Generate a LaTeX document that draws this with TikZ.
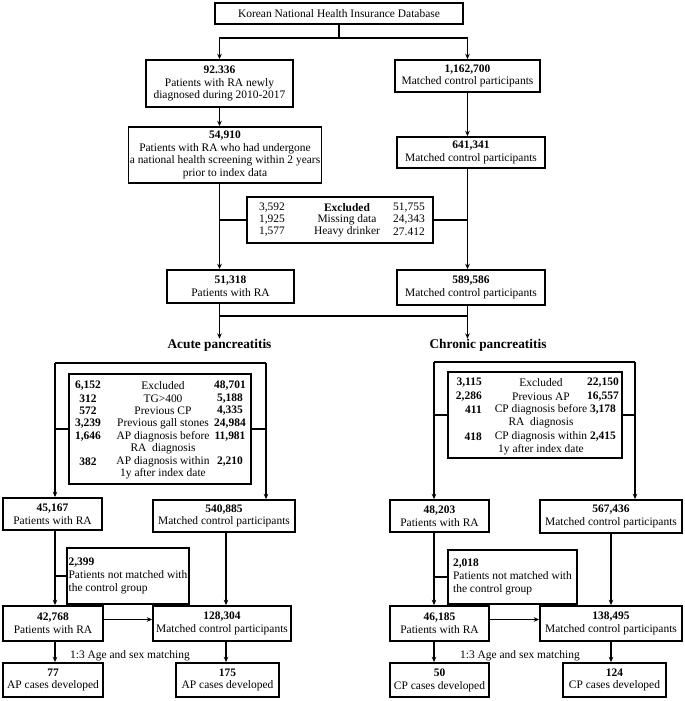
\documentclass[tikz,border=0pt]{standalone}
\usepackage{fontspec}
\setmainfont{Liberation Serif}
\usetikzlibrary{arrows.meta}
\begin{document}
\def\u{0.75pt}
\begin{tikzpicture}[x=0.75pt,y=-0.75pt,
  font=\fontsize{8.6}{9.6}\selectfont,
  box/.style={draw,line width=1.4pt,align=center,inner sep=1pt},
  ln/.style={line width=0.8pt},
  arr/.style={ln,-{Stealth[length=4pt,width=3.5pt]}},
  tx/.style={inner sep=0pt,align=center}]
\useasboundingbox (0,0) rectangle (685,701);
\node[box,minimum width=248*\u,minimum height=21*\u] (top) at (339,13.5) {Korean National Health Insurance Database};
\node[box,minimum width=147*\u,minimum height=47*\u] (ra1) at (219.5,83.5) {\textbf{92.336}\\Patients with RA newly\\diagnosed during 2010-2017};
\node[box,minimum width=145*\u,minimum height=32*\u] (c1) at (467.5,76) {\textbf{1,162,700}\\Matched control participants};
\node[box,minimum width=190*\u,minimum height=56*\u] (ra2) at (225,155) {\textbf{54,910}\\Patients with RA who had undergone\\a national health screening within 2 years\\prior to index data};
\node[box,minimum width=148*\u,minimum height=31*\u] (c2) at (471,152.5) {\textbf{641,341}\\Matched control participants};
\node[box,minimum width=186*\u,minimum height=46*\u] (ex) at (340,220) {};
\node[tx] (e1) at (272,208) {3,592};
\node[tx] (e2) at (272,220) {1,925};
\node[tx] (e3) at (272,232) {1,577};
\node[tx] (e4) at (347,208) {\textbf{Excluded}};
\node[tx] (e5) at (347,220) {Missing data};
\node[tx] (e6) at (347,232) {Heavy drinker};
\node[tx] (e7) at (409,208) {51,755};
\node[tx] (e8) at (409,220) {24,343};
\node[tx] (e9) at (409,232) {27.412};
\node[box,minimum width=127*\u,minimum height=33*\u] (ra3) at (230.5,286.5) {\textbf{51,318}\\Patients with RA};
\node[box,minimum width=148*\u,minimum height=35*\u] (c3) at (471,287.5) {\textbf{589,586}\\Matched control participants};
\node[tx,font=\fontsize{10}{11}\selectfont\bfseries] (at) at (219.5,345) {Acute pancreatitis};
\node[tx,font=\fontsize{10}{11}\selectfont\bfseries] (ct) at (488,345) {Chronic pancreatitis};
% acute exclusion
\node[box,minimum width=182*\u,minimum height=110*\u] (aex) at (160,429) {};
\foreach \n/\y/\l/\m/\r in {a1r/386/{6,152}/{Excluded}/{48,701}, a2r/399/{312}/{TG>400}/{5,188}, a3r/411/{572}/{Previous CP}/{4,335}, a4r/424/{3,239}/{Previous gall stones}/{24,984}, a5r/437/{1,646}/{AP diagnosis before}/{11,981}, a7r/462/{382}/{AP diagnosis within}/{2,210}}{
  \node[tx] (\n l) at (88,\y) {\textbf{\l}};
  \node[tx] (\n m) at (163,\y) {\m};
  \node[tx] (\n r) at (230,\y) {\textbf{\r}};}
\node[tx] (a6m) at (163,449) {RA\ \ diagnosis};
\node[tx] (a8m) at (163,474) {1y after index date};
\node[box,minimum width=99*\u,minimum height=32*\u] (a1) at (52.5,514) {\textbf{45,167}\\Patients with RA};
\node[box,minimum width=142*\u,minimum height=32*\u] (ac1) at (224,516) {\textbf{540,885}\\Matched control participants};
\node[box,minimum width=122*\u,minimum height=56*\u,align=left] (anm) at (128,576) {\textbf{2,399}\\Patients not matched with\\the control group};
\node[box,minimum width=100*\u,minimum height=35*\u] (a2) at (53,623.5) {\textbf{42,768}\\Patients with RA};
\node[box,minimum width=138*\u,minimum height=35*\u] (ac2) at (222,623.5) {\textbf{128,304}\\Matched control participants};
\node[tx] (am) at (130,656) {1:3 Age and sex matching};
\node[box,minimum width=100*\u,minimum height=34*\u] (a3) at (53,680) {\textbf{77}\\AP cases developed};
\node[box,minimum width=103*\u,minimum height=34*\u] (ac3) at (227.5,680) {\textbf{175}\\AP cases developed};
% chronic exclusion
\node[box,minimum width=174*\u,minimum height=86*\u] (cex) at (535,415) {};
\foreach \n/\y/\l/\m/\r in {b1r/383/{3,115}/{Excluded}/{22,150}, b2r/397/{2,286}/{Previous AP}/{16,557}, b3r/410/{411}/{CP diagnosis before}/{3,178}, b5r/437/{418}/{CP diagnosis within}/{2,415}}{
  \node[tx,anchor=east] (\n l) at (482,\y) {\textbf{\l}};
  \node[tx] (\n m) at (541,\y) {\m};
  \node[tx] (\n r) at (603,\y) {\textbf{\r}};}
\node[tx] (b4m) at (541,423) {RA\ \ diagnosis};
\node[tx] (b6m) at (541,450) {1y after index date};
\node[box,minimum width=99*\u,minimum height=32*\u] (b1) at (439.5,516) {\textbf{48,203}\\Patients with RA};
\node[box,minimum width=142*\u,minimum height=33*\u] (bc1) at (611,516.5) {\textbf{567,436}\\Matched control participants};
\node[box,minimum width=129*\u,minimum height=54*\u,align=left] (bnm) at (512.5,577) {\textbf{2,018}\\Patients not matched with\\the control group};
\node[box,minimum width=99*\u,minimum height=35*\u] (b2) at (439.5,623.5) {\textbf{46,185}\\Patients with RA};
\node[box,minimum width=142*\u,minimum height=35*\u] (bc2) at (611,623.5) {\textbf{138,495}\\Matched control participants};
\node[tx] (bm) at (520,656) {1:3 Age and sex matching};
\node[box,minimum width=99*\u,minimum height=34*\u] (b3) at (439.5,680) {\textbf{50}\\CP cases developed};
\node[box,minimum width=103*\u,minimum height=34*\u] (bc3) at (614.5,680) {\textbf{124}\\CP cases developed};
% connectors top
\coordinate (s1) at (339,38);
\draw[ln] (top) -- (s1);
\draw[arr] (s1) -| (ra1.north);
\draw[arr] (s1) -| (c1.north);
\draw[arr] (ra1) -- (ra1.south |- ra2.north);
\draw[arr] (c1) -- (c1.south |- c2.north);
\draw[arr] (ra2.south -| ra1) -- (ra3.north -| ra1);
\draw[arr] (c2.south -| c1) -- (c3.north -| c1);
\draw[ln] (ex.west) -- (ex.west -| ra1);
\draw[ln] (ex.east) -- (ex.east -| c1);
\coordinate (jl) at (219.5,316);
\coordinate (jr) at (467.5,316);
\draw[ln] (ra3.south -| jl) -- (jl) -- (jr) -- (c3.south -| jr);
\draw[arr] (jl) -- (at.north);
\draw[arr] (jr) -- (jr |- ct.north);
% acute
\coordinate (al) at (55,363);
\coordinate (ar) at (266,363);
\coordinate (ax) at (226,0);
\draw[ln] (al) -- (ar);
\draw[arr] (al) -- (al |- a1.north);
\draw[arr] (ar) -- (ar |- ac1.north);
\draw[ln] (aex.west) -- (aex.west -| al);
\draw[ln] (aex.east) -- (aex.east -| ar);
\draw[arr] (a1.south -| al) -- (a2.north -| al);
\draw[ln] (anm.west) -- (anm.west -| al);
\draw[arr] (ac1.south -| ax) -- (ac2.north -| ax);
\draw[arr] ([yshift=3pt]a2.east) -- ([yshift=3pt]a2.east -| ac2.west);
\draw[arr] (a2.south -| al) -- (a3.north -| al);
\draw[arr] (ac2.south -| ax) -- (ac3.north -| ax);
% chronic
\coordinate (cl) at (434,362);
\coordinate (cr) at (635,362);
\coordinate (cx) at (611,0);
\draw[ln] (cl) -- (cr);
\draw[arr] (cl) -- (cl |- b1.north);
\draw[arr] (cr) -- (cr |- bc1.north);
\draw[ln] (cex.west) -- (cex.west -| cl);
\draw[ln] (cex.east) -- (cex.east -| cr);
\draw[arr] (b1.south -| cl) -- (b2.north -| cl);
\draw[ln] (bnm.west) -- (bnm.west -| cl);
\draw[arr] (bc1.south -| cx) -- (bc2.north -| cx);
\draw[arr] ([yshift=3pt]b2.east) -- ([yshift=3pt]b2.east -| bc2.west);
\draw[arr] (b2.south -| cl) -- (b3.north -| cl);
\draw[arr] (bc2.south -| cx) -- (bc3.north -| cx);
\end{tikzpicture}
\end{document}
